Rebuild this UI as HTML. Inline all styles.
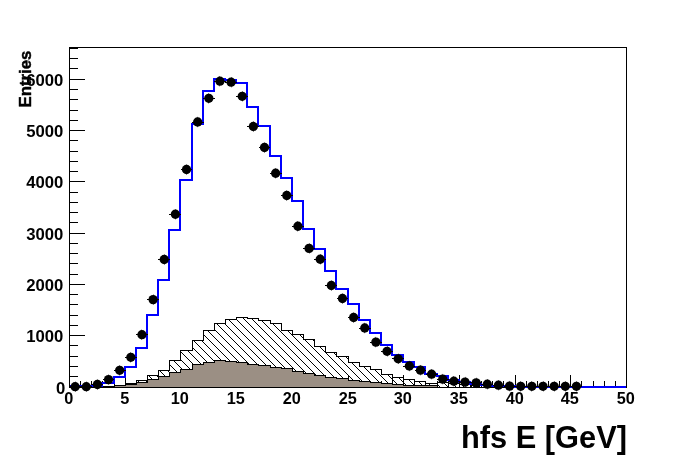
<!DOCTYPE html><html><head><meta charset="utf-8"><style>html,body{margin:0;padding:0;background:#fff;}body{width:696px;height:472px;position:relative;overflow:hidden;font-family:"Liberation Sans",sans-serif;}</style></head><body><svg width="696" height="472" viewBox="0 0 696 472" style="position:absolute;left:0;top:0">
<defs><pattern id="h" x="0" y="0" width="8" height="8" patternUnits="userSpaceOnUse" shape-rendering="crispEdges">
<rect x="0" y="3" width="1" height="1" fill="#000"/>
<rect x="1" y="4" width="1" height="1" fill="#000"/>
<rect x="2" y="5" width="1" height="1" fill="#000"/>
<rect x="3" y="6" width="1" height="1" fill="#000"/>
<rect x="4" y="7" width="1" height="1" fill="#000"/>
<rect x="5" y="0" width="1" height="1" fill="#000"/>
<rect x="6" y="1" width="1" height="1" fill="#000"/>
<rect x="7" y="2" width="1" height="1" fill="#000"/>
</pattern></defs>
<rect width="696" height="472" fill="#fff"/>
<g shape-rendering="crispEdges" stroke="#000" stroke-width="1" fill="none">
<rect x="69.5" y="47.5" width="557" height="340"/>
<path d="M70 387.5H85"/>
<path d="M70 376.5H78"/>
<path d="M70 366.5H78"/>
<path d="M70 356.5H78"/>
<path d="M70 345.5H78"/>
<path d="M70 335.5H85"/>
<path d="M70 325.5H78"/>
<path d="M70 315.5H78"/>
<path d="M70 304.5H78"/>
<path d="M70 294.5H78"/>
<path d="M70 284.5H85"/>
<path d="M70 274.5H78"/>
<path d="M70 263.5H78"/>
<path d="M70 253.5H78"/>
<path d="M70 243.5H78"/>
<path d="M70 233.5H85"/>
<path d="M70 222.5H78"/>
<path d="M70 212.5H78"/>
<path d="M70 202.5H78"/>
<path d="M70 192.5H78"/>
<path d="M70 181.5H85"/>
<path d="M70 171.5H78"/>
<path d="M70 161.5H78"/>
<path d="M70 151.5H78"/>
<path d="M70 140.5H78"/>
<path d="M70 130.5H85"/>
<path d="M70 120.5H78"/>
<path d="M70 110.5H78"/>
<path d="M70 99.5H78"/>
<path d="M70 89.5H78"/>
<path d="M70 79.5H85"/>
<path d="M70 68.5H78"/>
<path d="M70 58.5H78"/>
<path d="M70 48.5H78"/>
<path d="M69.5 387V375"/>
<path d="M80.5 387V381"/>
<path d="M91.5 387V381"/>
<path d="M102.5 387V381"/>
<path d="M114.5 387V381"/>
<path d="M125.5 387V375"/>
<path d="M136.5 387V381"/>
<path d="M147.5 387V381"/>
<path d="M158.5 387V381"/>
<path d="M169.5 387V381"/>
<path d="M180.5 387V375"/>
<path d="M192.5 387V381"/>
<path d="M203.5 387V381"/>
<path d="M214.5 387V381"/>
<path d="M225.5 387V381"/>
<path d="M236.5 387V375"/>
<path d="M247.5 387V381"/>
<path d="M258.5 387V381"/>
<path d="M270.5 387V381"/>
<path d="M281.5 387V381"/>
<path d="M292.5 387V375"/>
<path d="M303.5 387V381"/>
<path d="M314.5 387V381"/>
<path d="M325.5 387V381"/>
<path d="M336.5 387V381"/>
<path d="M348.5 387V375"/>
<path d="M359.5 387V381"/>
<path d="M370.5 387V381"/>
<path d="M381.5 387V381"/>
<path d="M392.5 387V381"/>
<path d="M403.5 387V375"/>
<path d="M414.5 387V381"/>
<path d="M425.5 387V381"/>
<path d="M437.5 387V381"/>
<path d="M448.5 387V381"/>
<path d="M459.5 387V375"/>
<path d="M470.5 387V381"/>
<path d="M481.5 387V381"/>
<path d="M492.5 387V381"/>
<path d="M503.5 387V381"/>
<path d="M515.5 387V375"/>
<path d="M526.5 387V381"/>
<path d="M537.5 387V381"/>
<path d="M548.5 387V381"/>
<path d="M559.5 387V381"/>
<path d="M570.5 387V375"/>
<path d="M581.5 387V381"/>
<path d="M593.5 387V381"/>
<path d="M604.5 387V381"/>
<path d="M615.5 387V381"/>
<path d="M626.5 387V375"/>
</g>
<g shape-rendering="crispEdges">
<polygon points="125.5,387.5 125.5,383.5 136.5,383.5 136.5,380.5 147.5,380.5 147.5,375.5 158.5,375.5 158.5,370.5 169.5,370.5 169.5,360.5 180.5,360.5 180.5,350.5 192.5,350.5 192.5,340.5 203.5,340.5 203.5,330.5 214.5,330.5 214.5,323.5 225.5,323.5 225.5,319.5 236.5,319.5 236.5,317.5 247.5,317.5 247.5,318.5 258.5,318.5 258.5,320.5 270.5,320.5 270.5,323.5 281.5,323.5 281.5,330.5 292.5,330.5 292.5,334.5 303.5,334.5 303.5,339.5 314.5,339.5 314.5,346.5 325.5,346.5 325.5,352.5 336.5,352.5 336.5,356.5 348.5,356.5 348.5,362.5 359.5,362.5 359.5,366.5 370.5,366.5 370.5,369.5 381.5,369.5 381.5,374.5 392.5,374.5 392.5,377.5 403.5,377.5 403.5,379.5 414.5,379.5 414.5,381.5 425.5,381.5 425.5,383.5 437.5,383.5 437.5,382.5 448.5,382.5 448.5,383.5 459.5,383.5 459.5,384.5 470.5,384.5 470.5,385.5 481.5,385.5 481.5,387.5" fill="url(#h)" stroke="#000" stroke-width="1"/>
<rect x="102.5" y="383.5" width="12.0" height="3" fill="#fff" stroke="#000"/>
<rect x="114.5" y="377.5" width="11.0" height="8" fill="#fff" stroke="#000"/>
<path d="M392.5 374.5V387" stroke="#000" fill="none"/>
<path d="M414.5 379.5V387" stroke="#000" fill="none"/>
<path d="M425.5 381.5V387" stroke="#000" fill="none"/>
<path d="M437.5 382.5V387" stroke="#000" fill="none"/>
<path d="M448.5 382.5V387" stroke="#000" fill="none"/>
<path d="M459.5 383.5V387" stroke="#000" fill="none"/>
<path d="M470.5 384.5V387" stroke="#000" fill="none"/>
<polygon points="114.5,387.5 114.5,385.5 125.5,385.5 125.5,384.5 136.5,384.5 136.5,382.5 147.5,382.5 147.5,379.5 158.5,379.5 158.5,376.5 169.5,376.5 169.5,372.5 180.5,372.5 180.5,369.5 192.5,369.5 192.5,364.5 203.5,364.5 203.5,362.5 214.5,362.5 214.5,360.5 225.5,360.5 225.5,361.5 236.5,361.5 236.5,362.5 247.5,362.5 247.5,364.5 258.5,364.5 258.5,365.5 270.5,365.5 270.5,367.5 281.5,367.5 281.5,368.5 292.5,368.5 292.5,371.5 303.5,371.5 303.5,373.5 314.5,373.5 314.5,375.5 325.5,375.5 325.5,377.5 336.5,377.5 336.5,378.5 348.5,378.5 348.5,380.5 359.5,380.5 359.5,381.5 370.5,381.5 370.5,382.5 381.5,382.5 381.5,383.5 392.5,383.5 392.5,384.5 403.5,384.5 403.5,385.5 414.5,385.5 414.5,385.5 425.5,385.5 425.5,385.5 437.5,385.5 437.5,387.5" fill="#9b8f84" stroke="#000" stroke-width="1"/>
<path d="M69 387.5H627" stroke="#000" fill="none"/>
<path d="M70 386V386H80V386H91V386H102V383H114V377H125V367H136V348H147V315H158V280H169V230H180V180H192V124H203V91H214V79H225V80H236V83H247V107H258V126H270V156H281V178H292V201H303V229H314V249H325V271H336V289H348V304H359V320H370V333H381V345H392V355H403V362H414V367H425V374H437V376H448V380H459V382H470V384H481V385H492V386H503V386H515V387H526V387H537V387H548V387H559V387H570V387H581V387H593V387H604V387H615V387H626" stroke="#0000ff" stroke-width="2" fill="none" stroke-linejoin="miter"/>
</g>
<g fill="#000" stroke="none">
<rect x="69.22" y="386" width="11.8" height="1" shape-rendering="crispEdges"/>
<circle cx="75.12" cy="386.7" r="4.65"/>
<rect x="75" y="381.50" width="1" height="10.4" opacity="0.5"/>
<rect x="80.36" y="386" width="11.8" height="1" shape-rendering="crispEdges"/>
<circle cx="86.26" cy="386.7" r="4.65"/>
<rect x="86" y="381.50" width="1" height="10.4" opacity="0.5"/>
<rect x="91.50" y="384" width="11.8" height="1" shape-rendering="crispEdges"/>
<circle cx="97.40" cy="384.5" r="4.65"/>
<rect x="97" y="379.30" width="1" height="10.4" opacity="0.5"/>
<rect x="102.64" y="379" width="11.8" height="1" shape-rendering="crispEdges"/>
<circle cx="108.54" cy="379.6" r="4.65"/>
<rect x="108" y="374.40" width="1" height="10.4" opacity="0.5"/>
<rect x="113.78" y="370" width="11.8" height="1" shape-rendering="crispEdges"/>
<circle cx="119.68" cy="370.3" r="4.65"/>
<rect x="119" y="365.10" width="1" height="10.4" opacity="0.5"/>
<rect x="124.92" y="357" width="11.8" height="1" shape-rendering="crispEdges"/>
<circle cx="130.82" cy="357.3" r="4.65"/>
<rect x="130" y="352.10" width="1" height="10.4" opacity="0.5"/>
<rect x="136.06" y="334" width="11.8" height="1" shape-rendering="crispEdges"/>
<circle cx="141.96" cy="334.7" r="4.65"/>
<rect x="141" y="329.50" width="1" height="10.4" opacity="0.5"/>
<rect x="147.20" y="299" width="11.8" height="1" shape-rendering="crispEdges"/>
<circle cx="153.10" cy="299.6" r="4.65"/>
<rect x="153" y="294.40" width="1" height="10.4" opacity="0.5"/>
<rect x="158.34" y="259" width="11.8" height="1" shape-rendering="crispEdges"/>
<circle cx="164.24" cy="259.5" r="4.65"/>
<rect x="164" y="254.30" width="1" height="10.4" opacity="0.5"/>
<rect x="169.48" y="214" width="11.8" height="1" shape-rendering="crispEdges"/>
<circle cx="175.38" cy="214.25" r="4.65"/>
<rect x="175" y="209.05" width="1" height="10.4" opacity="0.5"/>
<rect x="180.62" y="169" width="11.8" height="1" shape-rendering="crispEdges"/>
<circle cx="186.52" cy="169.5" r="4.65"/>
<rect x="186" y="164.30" width="1" height="10.4" opacity="0.5"/>
<rect x="191.76" y="122" width="11.8" height="1" shape-rendering="crispEdges"/>
<circle cx="197.66" cy="122" r="4.65"/>
<rect x="197" y="116.80" width="1" height="10.4" opacity="0.5"/>
<rect x="202.90" y="98" width="11.8" height="1" shape-rendering="crispEdges"/>
<circle cx="208.80" cy="98.3" r="4.65"/>
<rect x="208" y="93.10" width="1" height="10.4" opacity="0.5"/>
<rect x="214.04" y="81" width="11.8" height="1" shape-rendering="crispEdges"/>
<circle cx="219.94" cy="81.2" r="4.65"/>
<rect x="219" y="76.00" width="1" height="10.4" opacity="0.5"/>
<rect x="225.18" y="82" width="11.8" height="1" shape-rendering="crispEdges"/>
<circle cx="231.08" cy="82.2" r="4.65"/>
<rect x="231" y="77.00" width="1" height="10.4" opacity="0.5"/>
<rect x="236.32" y="96" width="11.8" height="1" shape-rendering="crispEdges"/>
<circle cx="242.22" cy="96.3" r="4.65"/>
<rect x="242" y="91.10" width="1" height="10.4" opacity="0.5"/>
<rect x="247.46" y="126" width="11.8" height="1" shape-rendering="crispEdges"/>
<circle cx="253.36" cy="126.5" r="4.65"/>
<rect x="253" y="121.30" width="1" height="10.4" opacity="0.5"/>
<rect x="258.60" y="147" width="11.8" height="1" shape-rendering="crispEdges"/>
<circle cx="264.50" cy="147.5" r="4.65"/>
<rect x="264" y="142.30" width="1" height="10.4" opacity="0.5"/>
<rect x="269.74" y="173" width="11.8" height="1" shape-rendering="crispEdges"/>
<circle cx="275.64" cy="173.25" r="4.65"/>
<rect x="275" y="168.05" width="1" height="10.4" opacity="0.5"/>
<rect x="280.88" y="195" width="11.8" height="1" shape-rendering="crispEdges"/>
<circle cx="286.78" cy="195.5" r="4.65"/>
<rect x="286" y="190.30" width="1" height="10.4" opacity="0.5"/>
<rect x="292.02" y="226" width="11.8" height="1" shape-rendering="crispEdges"/>
<circle cx="297.92" cy="226.25" r="4.65"/>
<rect x="297" y="221.05" width="1" height="10.4" opacity="0.5"/>
<rect x="303.16" y="248" width="11.8" height="1" shape-rendering="crispEdges"/>
<circle cx="309.06" cy="248.4" r="4.65"/>
<rect x="309" y="243.20" width="1" height="10.4" opacity="0.5"/>
<rect x="314.30" y="259" width="11.8" height="1" shape-rendering="crispEdges"/>
<circle cx="320.20" cy="259.25" r="4.65"/>
<rect x="320" y="254.05" width="1" height="10.4" opacity="0.5"/>
<rect x="325.44" y="285" width="11.8" height="1" shape-rendering="crispEdges"/>
<circle cx="331.34" cy="285.5" r="4.65"/>
<rect x="331" y="280.30" width="1" height="10.4" opacity="0.5"/>
<rect x="336.58" y="298" width="11.8" height="1" shape-rendering="crispEdges"/>
<circle cx="342.48" cy="298.5" r="4.65"/>
<rect x="342" y="293.30" width="1" height="10.4" opacity="0.5"/>
<rect x="347.72" y="317" width="11.8" height="1" shape-rendering="crispEdges"/>
<circle cx="353.62" cy="317.5" r="4.65"/>
<rect x="353" y="312.30" width="1" height="10.4" opacity="0.5"/>
<rect x="358.86" y="328" width="11.8" height="1" shape-rendering="crispEdges"/>
<circle cx="364.76" cy="328" r="4.65"/>
<rect x="364" y="322.80" width="1" height="10.4" opacity="0.5"/>
<rect x="370.00" y="342" width="11.8" height="1" shape-rendering="crispEdges"/>
<circle cx="375.90" cy="342.1" r="4.65"/>
<rect x="375" y="336.90" width="1" height="10.4" opacity="0.5"/>
<rect x="381.14" y="351" width="11.8" height="1" shape-rendering="crispEdges"/>
<circle cx="387.04" cy="351.3" r="4.65"/>
<rect x="387" y="346.10" width="1" height="10.4" opacity="0.5"/>
<rect x="392.28" y="358" width="11.8" height="1" shape-rendering="crispEdges"/>
<circle cx="398.18" cy="358.8" r="4.65"/>
<rect x="398" y="353.60" width="1" height="10.4" opacity="0.5"/>
<rect x="403.42" y="366" width="11.8" height="1" shape-rendering="crispEdges"/>
<circle cx="409.32" cy="366" r="4.65"/>
<rect x="409" y="360.80" width="1" height="10.4" opacity="0.5"/>
<rect x="414.56" y="370" width="11.8" height="1" shape-rendering="crispEdges"/>
<circle cx="420.46" cy="370.2" r="4.65"/>
<rect x="420" y="365.00" width="1" height="10.4" opacity="0.5"/>
<rect x="425.70" y="374" width="11.8" height="1" shape-rendering="crispEdges"/>
<circle cx="431.60" cy="374.2" r="4.65"/>
<rect x="431" y="369.00" width="1" height="10.4" opacity="0.5"/>
<rect x="436.84" y="379" width="11.8" height="1" shape-rendering="crispEdges"/>
<circle cx="442.74" cy="379.1" r="4.65"/>
<rect x="442" y="373.90" width="1" height="10.4" opacity="0.5"/>
<rect x="447.98" y="381" width="11.8" height="1" shape-rendering="crispEdges"/>
<circle cx="453.88" cy="381.2" r="4.65"/>
<rect x="453" y="376.00" width="1" height="10.4" opacity="0.5"/>
<rect x="459.12" y="382" width="11.8" height="1" shape-rendering="crispEdges"/>
<circle cx="465.02" cy="382.1" r="4.65"/>
<rect x="465" y="376.90" width="1" height="10.4" opacity="0.5"/>
<rect x="470.26" y="382" width="11.8" height="1" shape-rendering="crispEdges"/>
<circle cx="476.16" cy="382.9" r="4.65"/>
<rect x="476" y="377.70" width="1" height="10.4" opacity="0.5"/>
<rect x="481.40" y="384" width="11.8" height="1" shape-rendering="crispEdges"/>
<circle cx="487.30" cy="384.2" r="4.65"/>
<rect x="487" y="379.00" width="1" height="10.4" opacity="0.5"/>
<rect x="492.54" y="385" width="11.8" height="1" shape-rendering="crispEdges"/>
<circle cx="498.44" cy="385.2" r="4.65"/>
<rect x="498" y="380.00" width="1" height="10.4" opacity="0.5"/>
<rect x="503.68" y="386" width="11.8" height="1" shape-rendering="crispEdges"/>
<circle cx="509.58" cy="386.1" r="4.65"/>
<rect x="509" y="380.90" width="1" height="10.4" opacity="0.5"/>
<rect x="514.82" y="386" width="11.8" height="1" shape-rendering="crispEdges"/>
<circle cx="520.72" cy="386.3" r="4.65"/>
<rect x="520" y="381.10" width="1" height="10.4" opacity="0.5"/>
<rect x="525.96" y="386" width="11.8" height="1" shape-rendering="crispEdges"/>
<circle cx="531.86" cy="386.3" r="4.65"/>
<rect x="531" y="381.10" width="1" height="10.4" opacity="0.5"/>
<rect x="537.10" y="386" width="11.8" height="1" shape-rendering="crispEdges"/>
<circle cx="543.00" cy="386.3" r="4.65"/>
<rect x="543" y="381.10" width="1" height="10.4" opacity="0.5"/>
<rect x="548.24" y="386" width="11.8" height="1" shape-rendering="crispEdges"/>
<circle cx="554.14" cy="386.3" r="4.65"/>
<rect x="554" y="381.10" width="1" height="10.4" opacity="0.5"/>
<rect x="559.38" y="386" width="11.8" height="1" shape-rendering="crispEdges"/>
<circle cx="565.28" cy="386.3" r="4.65"/>
<rect x="565" y="381.10" width="1" height="10.4" opacity="0.5"/>
<rect x="570.52" y="386" width="11.8" height="1" shape-rendering="crispEdges"/>
<circle cx="576.42" cy="386.3" r="4.65"/>
<rect x="576" y="381.10" width="1" height="10.4" opacity="0.5"/>
</g>
<g font-family="Liberation Sans, sans-serif" font-weight="bold" fill="#000" opacity="0.999">
<text transform="translate(65.3,393.7) scale(1.025,1)" font-size="16.3" text-anchor="end">0</text>
<text transform="translate(63.4,342.0) scale(1.025,1)" font-size="16.3" text-anchor="end">1000</text>
<text transform="translate(63.4,291.0) scale(1.025,1)" font-size="16.3" text-anchor="end">2000</text>
<text transform="translate(63.4,240.0) scale(1.025,1)" font-size="16.3" text-anchor="end">3000</text>
<text transform="translate(63.4,188.0) scale(1.025,1)" font-size="16.3" text-anchor="end">4000</text>
<text transform="translate(63.4,137.0) scale(1.025,1)" font-size="16.3" text-anchor="end">5000</text>
<text transform="translate(63.4,86.0) scale(1.025,1)" font-size="16.3" text-anchor="end">6000</text>
<text transform="translate(68.8,404.1) scale(1.0,1)" font-size="16.3" text-anchor="middle">0</text>
<text transform="translate(124.8,404.1) scale(1.0,1)" font-size="16.3" text-anchor="middle">5</text>
<text transform="translate(179.8,404.1) scale(1.0,1)" font-size="16.3" text-anchor="middle">10</text>
<text transform="translate(235.8,404.1) scale(1.0,1)" font-size="16.3" text-anchor="middle">15</text>
<text transform="translate(291.8,404.1) scale(1.0,1)" font-size="16.3" text-anchor="middle">20</text>
<text transform="translate(347.8,404.1) scale(1.0,1)" font-size="16.3" text-anchor="middle">25</text>
<text transform="translate(402.8,404.1) scale(1.0,1)" font-size="16.3" text-anchor="middle">30</text>
<text transform="translate(458.8,404.1) scale(1.0,1)" font-size="16.3" text-anchor="middle">35</text>
<text transform="translate(514.8,404.1) scale(1.0,1)" font-size="16.3" text-anchor="middle">40</text>
<text transform="translate(569.8,404.1) scale(1.0,1)" font-size="16.3" text-anchor="middle">45</text>
<text transform="translate(625.8,404.1) scale(1.0,1)" font-size="16.3" text-anchor="middle">50</text>
<text x="627" y="447.7" font-size="30.8" text-anchor="end">hfs E [GeV]</text>
<text transform="translate(30.6,107.4) rotate(-90) scale(1.045,1)" font-size="16" stroke="#000" stroke-width="0.45">Entries</text>
</g>
</svg></body></html>
